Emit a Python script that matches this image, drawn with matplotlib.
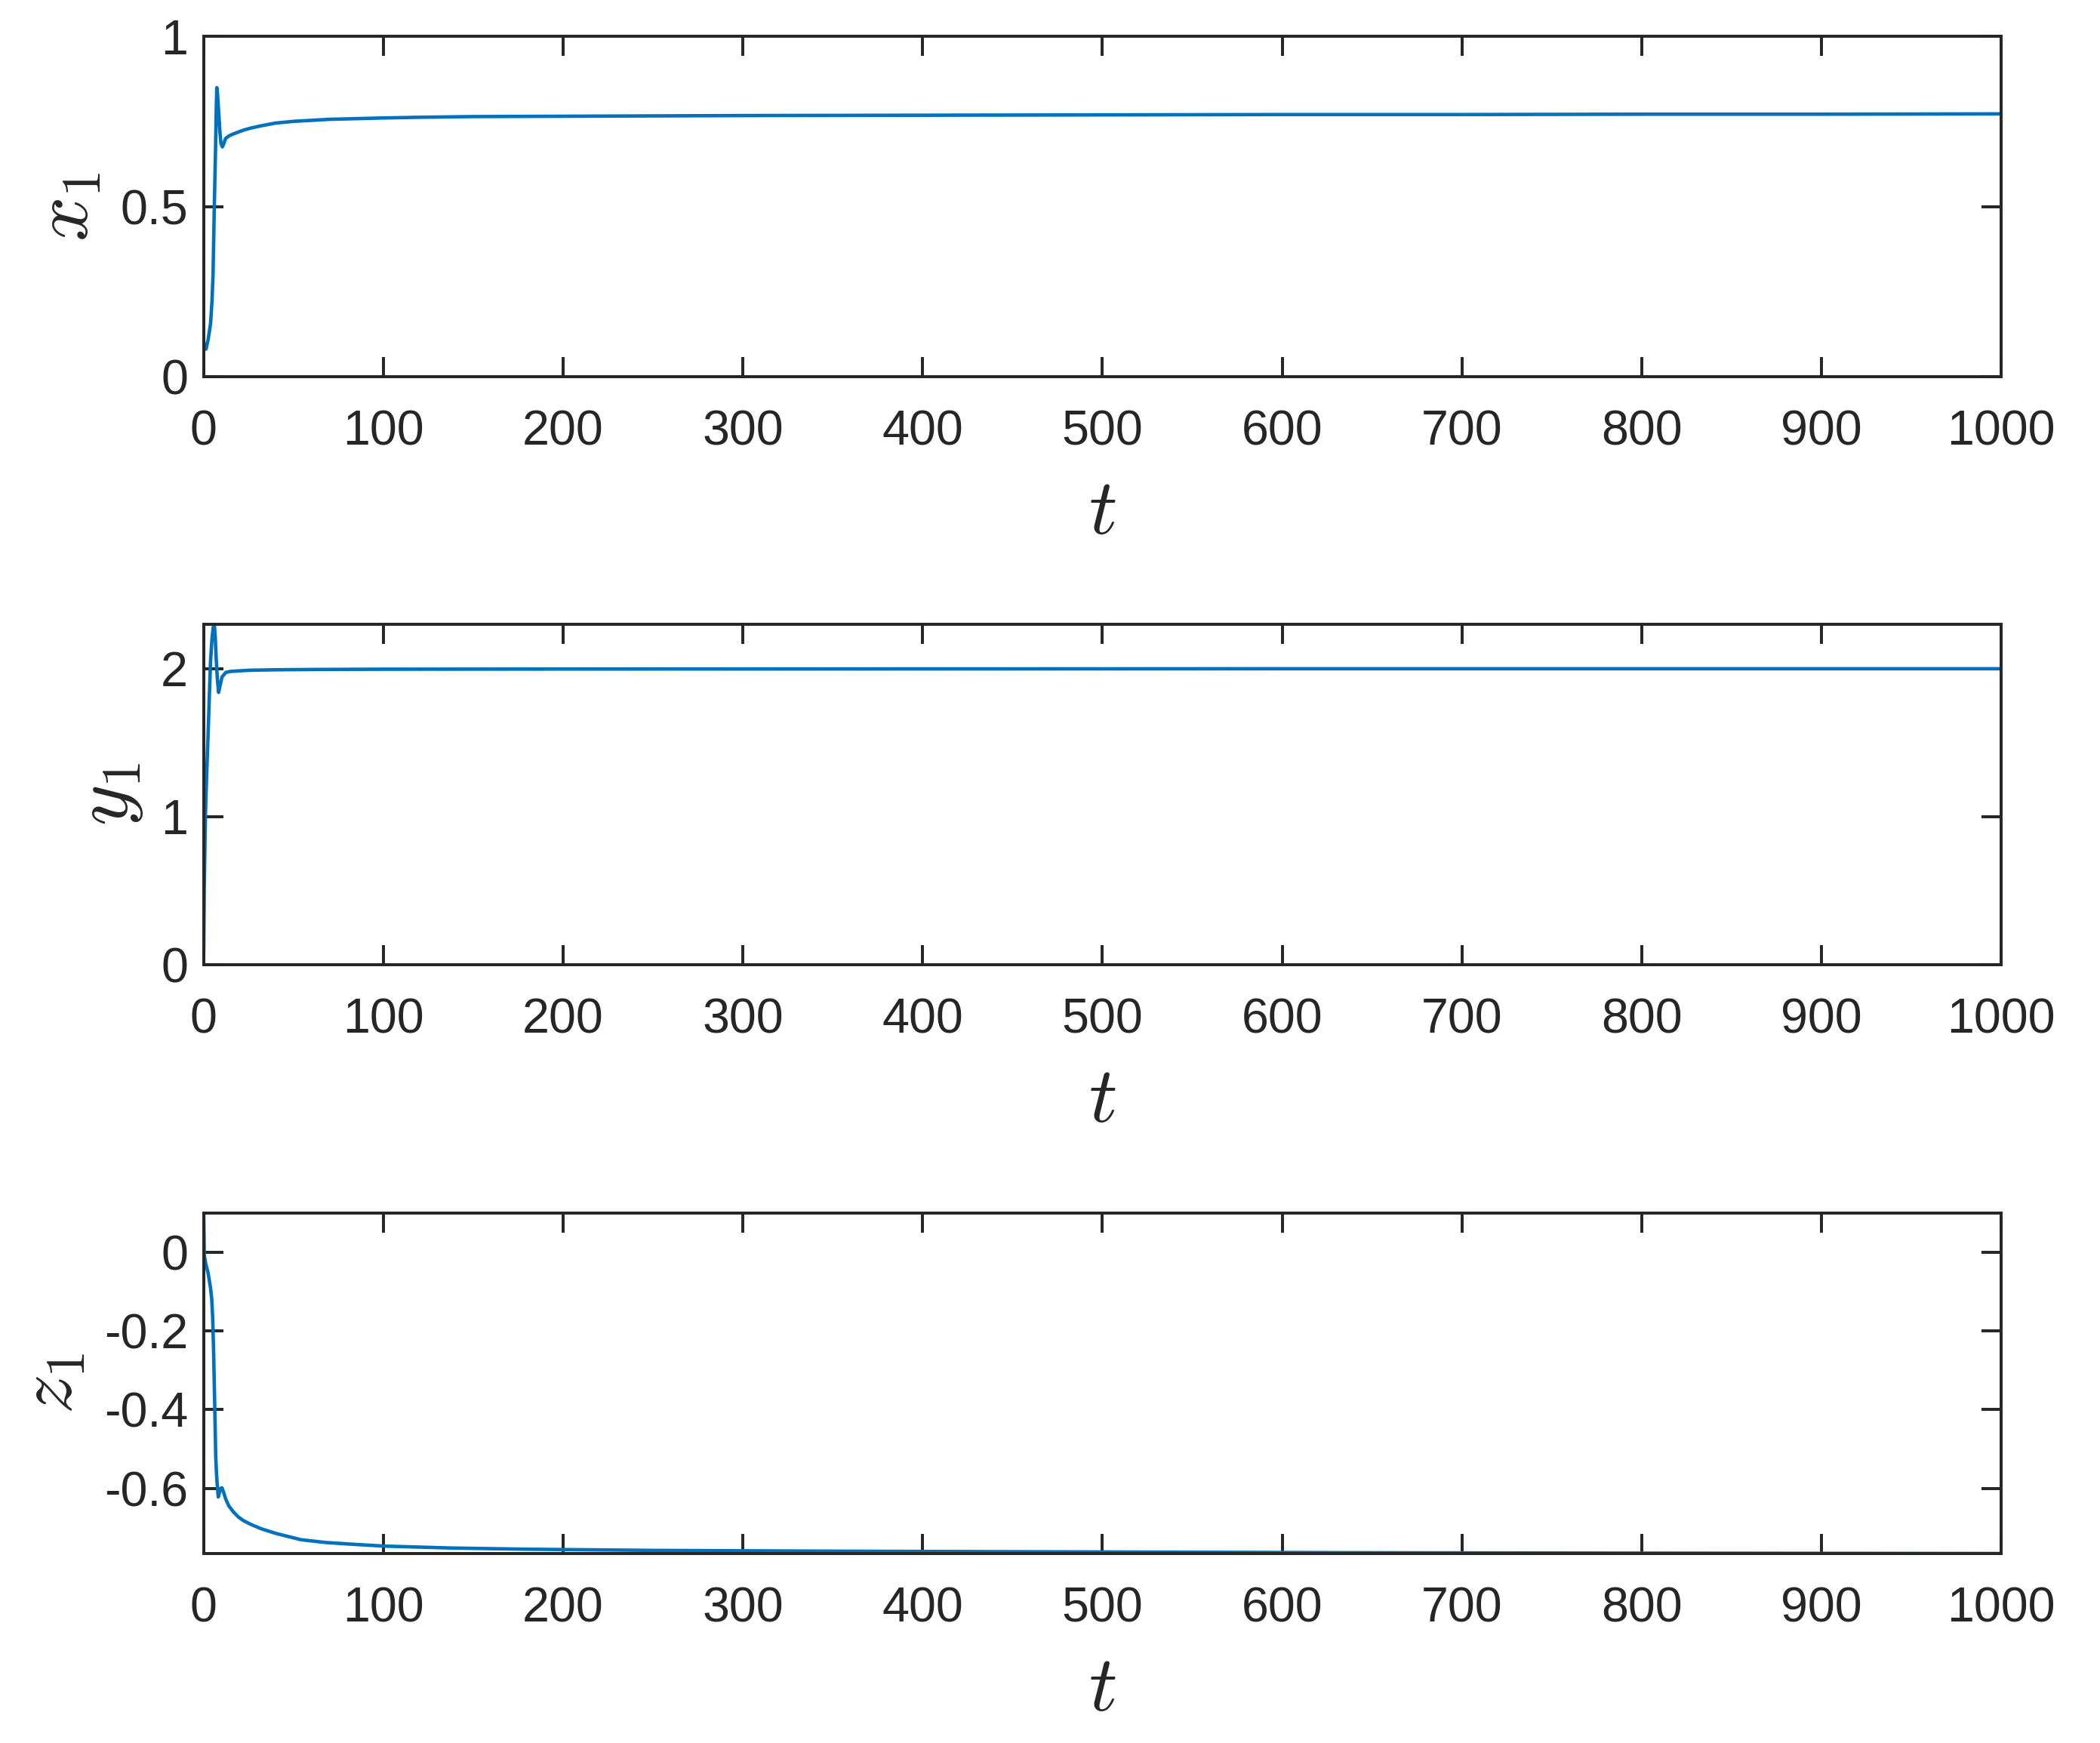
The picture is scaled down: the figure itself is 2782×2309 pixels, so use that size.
import matplotlib
matplotlib.use("Agg")
import matplotlib.pyplot as plt

# x1(t)
t_x = [0, 1.3, 2.5, 3.8, 4.6, 5.2, 5.9, 6.6, 7.0, 7.3, 7.7, 8.3, 9.0, 9.6,
       10.4, 11.2, 12.2, 14, 16, 19, 22, 26, 32, 40, 50, 60, 70, 85, 100,
       120, 150, 200, 300, 400, 500, 600, 700, 800, 900, 1000]
x1 = [0.10, 0.081, 0.11, 0.155, 0.22, 0.30, 0.50, 0.67, 0.79, 0.849, 0.83,
      0.78, 0.72, 0.685, 0.675, 0.685, 0.70, 0.707, 0.712, 0.718, 0.724,
      0.730, 0.737, 0.745, 0.750, 0.753, 0.756, 0.758, 0.760, 0.762, 0.764,
      0.765, 0.767, 0.768, 0.769, 0.770, 0.770, 0.771, 0.771, 0.772]

# y1(t)
t_y = [0, 0.3, 1.0, 1.7, 2.4, 3.1, 3.8, 4.6, 5.3, 5.9, 6.4, 6.9, 7.6, 8.3,
       9.0, 10.2, 12.3, 15, 20, 26, 40, 60, 100, 200, 400, 600, 800, 1000]
y1 = [0.09, 0.52, 1.03, 1.30, 1.54, 1.80, 2.05, 2.20, 2.28, 2.30, 2.22,
      2.08, 1.93, 1.84, 1.88, 1.945, 1.975, 1.982, 1.986, 1.99, 1.993,
      1.995, 1.997, 1.998, 1.999, 2.0, 2.0, 2.0]

# z1(t)
t_z = [0, 0.3, 1.2, 2.4, 3.8, 4.5, 5.0, 5.5, 6.0, 6.4, 6.7, 7.1, 7.4, 8.1,
       8.8, 9.5, 10.2, 11.2, 12.3, 14, 16.5, 19.3, 22, 26.3, 32, 40.3, 54.3,
       68, 85, 100, 138, 180, 250, 350, 500, 650, 800, 1000]
z1 = [0.10, -0.006, -0.03, -0.051, -0.09, -0.12, -0.167, -0.25, -0.359,
      -0.45, -0.519, -0.56, -0.583, -0.622, -0.61, -0.600, -0.599, -0.612,
      -0.628, -0.645, -0.66, -0.673, -0.682, -0.692, -0.703, -0.715, -0.731,
      -0.738, -0.743, -0.747, -0.752, -0.755, -0.758, -0.760, -0.762,
      -0.764, -0.765, -0.766]

x_ticks = list(range(0, 1001, 100))
panels = [
    (t_x, x1, r"$x_1$", (0, 1), [0, 0.5, 1], ["0", "0.5", "1"]),
    (t_y, y1, r"$y_1$", (0, 2.3), [0, 1, 2], ["0", "1", "2"]),
    (t_z, z1, r"$z_1$", (min(z1), 0.1), [-0.6, -0.4, -0.2, 0],
     ["-0.6", "-0.4", "-0.2", "0"]),
]

plt.rcParams["font.family"] = ["Liberation Sans", "DejaVu Sans"]
plt.rcParams["mathtext.fontset"] = "cm"

dark = "#262626"
line_color = "#0072BD"

fig = plt.figure(figsize=(2782 / 300, 2309 / 300), dpi=300)
bottoms = [0.7839, 0.4465, 0.1087]
left, width, height = 0.0970, 0.8559, 0.1953

for (t, vals, lab, ylim, yt, ytl), b in zip(panels, bottoms):
    ax = fig.add_axes([left, b, width, height])
    ax.plot(t, vals, color=line_color, lw=1.1)
    ax.set_xlim(0, 1000)
    ax.set_ylim(*ylim)
    ax.set_xticks(x_ticks)
    ax.set_xticklabels([str(v) for v in x_ticks])
    ax.set_yticks(yt)
    ax.set_yticklabels(ytl)
    ax.tick_params(direction="in", top=True, right=True, length=6.2,
                   width=0.95, color=dark, labelcolor=dark, labelsize=15.5)
    ax.tick_params(axis="x", pad=10.5)
    ax.tick_params(axis="y", pad=5)
    for s in ax.spines.values():
        s.set_linewidth(0.95)
        s.set_color(dark)
    ax.set_xlabel(r"$t$", fontsize=25, color=dark, labelpad=7)
    ax.set_ylabel(lab, fontsize=25, color=dark, labelpad=5)

fig.savefig("out.png", dpi=300)
